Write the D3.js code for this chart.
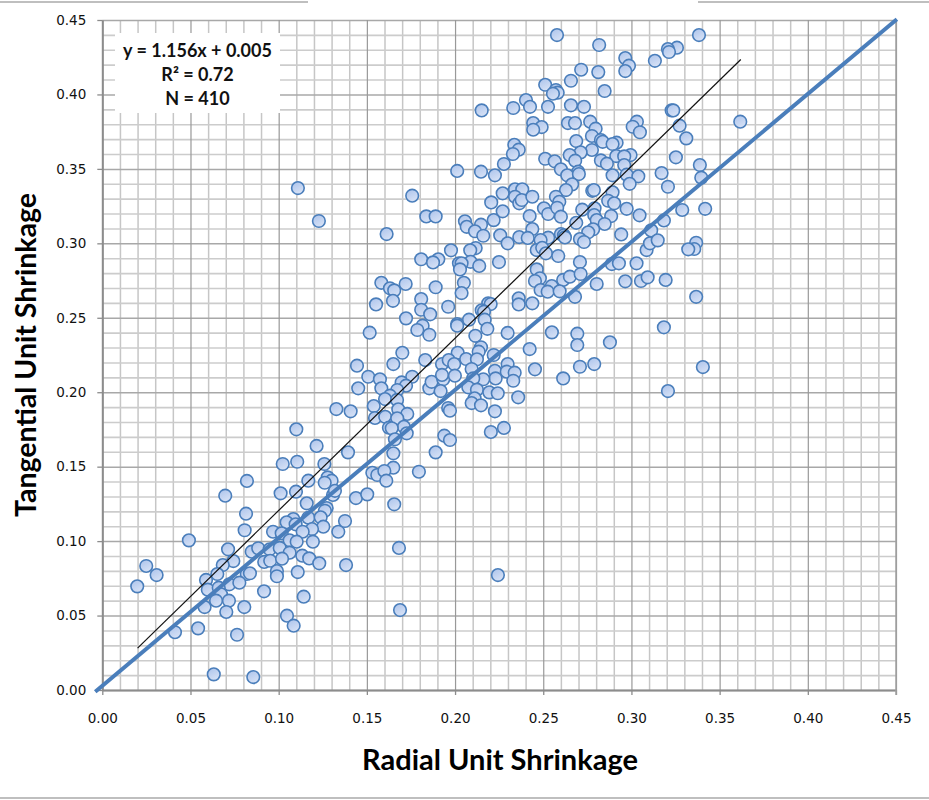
<!DOCTYPE html>
<html><head><meta charset="utf-8">
<script src="https://cdn.jsdelivr.net/npm/d3@7/dist/d3.min.js"></script>
<style>html,body{margin:0;padding:0;background:#fff}svg{display:block}</style>
</head><body><div id="chart"></div>
<script>
const radial = [
.0697,.1011,.1098,.1159,.0815,.1308,.1272,.1262,.0807,.1083,.1045,.1096,.1168,.1238,.1253,.1189,.1136,.0968,.1017,.1338,
.0491,.1062,.1102,.1194,.0713,.0847,.0884,.0949,.1006,.1062,.0743,.0683,.0918,.0952,.1019,.1134,.1173,.1230,.0249,.0308,
.0652,.0819,.0837,.0990,.0990,.1108,.0588,.0198,.0720,.0777,.0598,.0660,.0917,.0673,.1142,.0645,.0718,.0580,.0805,.0703,
.1047,.1085,.0543,.0412,.0764,.0632,.0856,
.1701,.1444,.1650,.1831,.1926,.1508,.1574,.1757,.1451,.1582,.1697,.1722,.1672,.1854,.1867,.1933,.1926,.1918,.1631,.1603,
.1671,.1539,.1327,.1408,.1678,.1729,.1546,.1604,.1659,.1672,.1710,.1625,.1641,.1726,.1100,.1659,.1939,.1971,.1215,.1393,
.1650,.1890,.1023,.1105,.1259,.1650,.1795,.1531,.1559,.1599,.1610,.1168,.1278,.1300,.1261,.1319,.1438,.1502,.1655,.1961,
.1971,.0820,.1376,.1382,.1682,.1688,.2243,.1109,.1228,
.2012,.2147,.2226,.1757,.2270,.2205,.2270,.2219,.1837,.1890,.2056,.2066,.2147,.2113,.2160,.1612,.2256,.2298,.1977,.2117,
.2086,.1905,.1808,.1875,.2088,.2022,.2037,.2028,.2137,.2249,.2050,.1582,.1720,.1631,.1655,.1890,.2037,.1808,.1648,.1552,
.1808,.1961,.2188,.2202,.2151,.2164,.1859,.1722,.2168,.2079,.2012,.2012,.1816,.1786,.2183,.1854,.1516,.2115,.2298,
.2549,.2693,.2693,.2878,.2147,.2134,.2423,.2219,.2015,.1964,.1995,.2063,.2124,.2298,.2094,.2226,.2293,.2338,.2453,.2708,
.2789,.2613,.2330,.2230,.2160,.2103,.1999,.2075,.2124,.2194,.2242,.2358,.2111,.2094,.2147,.2226,.2277,.2203,
.2578,.2817,.2965,.2986,.2965,.3133,.2715,.2812,.2657,.2511,.2572,.2582,.2555,.2848,.2402,.2425,.2330,.2527,.2657,.2731,
.2151,.2443,.2491,.2443,.2640,.2680,.2766,.2797,.2776,.3031,.3007,.3048,.2687,.2827,.2837,.2916,.2893,.2336,.2361,.2328,
.2776,.2712,.2650,.2914,.2995,.2959,.2511,.2565,.2681,.2827,.2861,.2277,.2959,.2600,.2698,
.2636,.2702,.2893,.2973,.3039,.2990,.2664,.2629,.2340,.2381,.2340,.2364,.2378,.2438,.2778,.2787,.2893,.2572,.2591,.2868,
.2902,.2504,.2528,.2579,.2600,.2721,.2791,.2789,.2885,.2973,.3046,.2423,.2803,.2687,.2848,.2438,.2783,.2755,.2364,.2412,
.2600,.2617,.2623,.2528,.2485,.2708,.2731,.2942,.2463,.2494,.2515,.2585,.2708,.2889,.2929,.3029,.3086,.3105,.2463,.2481,
.2453,.2613,.2651,.2712,.2803,.2965,.3054,.3092,.2548,.2485,.2525,.2593,.2680,.2361,.2361,.2438,
.3383,.3258,.3207,.3213,.3228,.3237,.3617,.3273,.3311,.3252,.3388,.3171,.3396,.3207,.3288,.3418,.3184,.3112,.3149,.3367,
.3356,.3322,.3194,.3367,.3184,.3405,.3207
];
const tangential = [
.1305,.1321,.1332,.1254,.1184,.1310,.1222,.1204,.1073,.1148,.1126,.1113,.1157,.1160,.1097,.1081,.1063,.1063,.1052,.1063,
.1005,.1005,.0996,.0996,.0945,.0929,.0952,.0945,.0954,.0922,.0866,.0839,.0860,.0868,.0882,.0902,.0884,.0851,.0833,.0772,
.0779,.0779,.0784,.0799,.0764,.0792,.0739,.0696,.0710,.0721,.0674,.0687,.0663,.0643,.0627,.0600,.0600,.0557,.0557,.0524,
.0499,.0432,.0414,.0388,.0371,.0105,.0087,
.2265,.2178,.2189,.2216,.2189,.2104,.2087,.2104,.2026,.2026,.2066,.2044,.2015,.2026,.2070,.2087,.2116,.2008,.1977,.1954,
.1948,.1907,.1887,.1872,.1885,.1854,.1827,.1835,.1791,.1825,.1768,.1762,.1758,.1724,.1751,.1684,.1708,.1679,.1639,.1596,
.1590,.1596,.1518,.1533,.1518,.1493,.1466,.1459,.1444,.1471,.1406,.1406,.1428,.1406,.1392,.1338,.1289,.1314,.1247,.1894,
.1876,.1404,.1135,.0839,.0954,.0537,.0772,.3371,.3150,
.3486,.3481,.3457,.3320,.3336,.3275,.3215,.3156,.3181,.3181,.3148,.3111,.3125,.3081,.3051,.3062,.3054,.3000,.2953,.2968,
.2953,.2893,.2893,.2872,.2876,.2866,.2866,.2825,.2848,.2874,.2735,.2735,.2727,.2698,.2684,.2705,.2666,.2626,.2614,.2590,
.2554,.2574,.2597,.2592,.2550,.2541,.2523,.2496,.2487,.2487,.2458,.2447,.2447,.2418,.2426,.2386,.2400,.2379,.2398,
.2402,.2393,.2317,.2335,.2302,.2272,.2290,.2250,.2265,.2216,.2189,.2223,.2221,.2189,.2156,.2144,.2138,.2131,.2154,.2171,
.2189,.2093,.2077,.2093,.2087,.2093,.2111,.2033,.2017,.1999,.1993,.1966,.1959,.1927,.1912,.1872,.1760,.1733,
.4399,.4332,.4244,.4193,.4157,.4226,.4166,.4150,.4092,.4065,.4030,.4012,.4005,.4023,.3962,.3917,.3909,.3917,.3927,.3917,
.3893,.3808,.3781,.3763,.3808,.3808,.3817,.3770,.3721,.3817,.3783,.3746,.3687,.3694,.3682,.3676,.3667,.3662,.3629,.3600,
.3627,.3611,.3593,.3586,.3593,.3584,.3568,.3551,.3555,.3557,.3535,.3533,.3526,.3497,.3481,
.3457,.3465,.3457,.3461,.3450,.3400,.3396,.3358,.3363,.3363,.3313,.3269,.3291,.3313,.3353,.3358,.3343,.3313,.3279,.3286,
.3269,.3235,.3197,.3239,.3179,.3226,.3235,.3190,.3183,.3232,.3188,.3183,.3156,.3138,.3130,.3096,.3094,.3074,.3042,.3036,
.3062,.3054,.3040,.3038,.3022,.3029,.3009,.3060,.2955,.2970,.2933,.2915,.2874,.2861,.2866,.2866,.2955,.3000,.2825,.2765,
.2747,.2754,.2776,.2794,.2727,.2745,.2747,.2772,.2713,.2686,.2675,.2678,.2641,.2631,.2590,.2597,
.4399,.4314,.4305,.4285,.3893,.3893,.3817,.3790,.3705,.3578,.3526,.3472,.3441,.3380,.3224,.3232,.3154,.3087,.3020,.3004,
.2962,.2960,.2754,.2641,.2436,.2169,.2008
];
const identityLine = [[-0.004, -0.0012], [0.4505, 0.4505]];
const regressionX = [0.02, 0.362];
const regressionSlope = 1.156, regressionIntercept = 0.005;
const majorTicks = [0,0.05,0.10,0.15,0.20,0.25,0.30,0.35,0.40,0.45];
const minorTicks = d3.range(1,45).map(d=>d/100).filter(d=>Math.round(d*100)%5!==0);
const statLines = ["y = 1.156x + 0.005","R² = 0.72","N = 410"];
const xTitle = "Radial Unit Shrinkage", yTitle = "Tangential Unit Shrinkage";

const W=929,H=800,L=102.3,R=896,T=20,B=690;
const svg=d3.select("#chart").append("svg").attr("width",W).attr("height",H);
const defs=svg.append("defs");
const g=defs.append("linearGradient").attr("id","mk").attr("x1","0.2").attr("y1","0").attr("x2","0.7").attr("y2","1");
g.append("stop").attr("offset","0").attr("stop-color","#aec5ec");
g.append("stop").attr("offset","1").attr("stop-color","#d9e3f6");

const x=d3.scaleLinear().domain([0,0.45]).range([L,R]);
const y=d3.scaleLinear().domain([0,0.45]).range([B,T]);

// frame rules
[[0,308,2],[698,929,2],[0,929,798]].forEach(r=>svg.append("line").attr("x1",r[0]).attr("x2",r[1]).attr("y1",r[2]).attr("y2",r[2]).attr("stroke","#aaa").attr("stroke-width",1.5));

function grid(gen,vals,col,w,tr){
  const a=svg.append("g").attr("transform",tr).call(gen.tickValues(vals).tickFormat("").tickSizeOuter(0));
  a.select(".domain").remove();
  a.selectAll("line").attr("stroke",col).attr("stroke-width",w);
}
grid(d3.axisBottom(x).tickSize(-(B-T)),minorTicks,"#c6c6c6",1.5,`translate(0,${B})`);
grid(d3.axisLeft(y).tickSize(-(R-L)),minorTicks,"#cccccc",1.6,`translate(${L},0)`);
grid(d3.axisLeft(y).tickSize(-(R-L)),majorTicks,"#a8a8a8",1.5,`translate(${L},0)`);
grid(d3.axisBottom(x).tickSize(-(B-T)),majorTicks,"#999999",1.2,`translate(0,${B})`);

// axes
const ax=svg.append("g").attr("transform",`translate(0,${B})`).call(d3.axisBottom(x).tickValues(majorTicks).tickFormat(d3.format(".2f")).tickSize(5).tickPadding(18).tickSizeOuter(0));
const ay=svg.append("g").attr("transform",`translate(${L},0)`).call(d3.axisLeft(y).tickValues(majorTicks).tickFormat(d3.format(".2f")).tickSize(5).tickPadding(11).tickSizeOuter(0));
[ax,ay].forEach(a=>{
  a.select(".domain").attr("stroke","#8c8c8c").attr("stroke-width",2);
  a.selectAll("line").attr("stroke","#8c8c8c").attr("stroke-width",1.3);
  a.selectAll("text").attr("font-family","'DejaVu Sans'").attr("font-size",13.5).attr("fill","#111");
});
svg.append("line").attr("x1",R).attr("x2",R).attr("y1",T).attr("y2",B+5).attr("stroke","#a0a0a0").attr("stroke-width",1.5);

// stat box
svg.append("rect").attr("x",115).attr("y",33).attr("width",165).attr("height",80).attr("fill","#fff");
const statY=[57,81,105];
statLines.forEach((t,i)=>svg.append("text").text(t).attr("x",197.5).attr("y",statY[i]).attr("text-anchor","middle")
  .attr("font-family","Lato").attr("font-weight",700).attr("font-size",18).attr("fill","#111"));

// points
svg.append("g").selectAll("circle").data(radial.map((d,i)=>[d,tangential[i]])).join("circle")
  .attr("cx",d=>x(d[0])).attr("cy",d=>y(d[1])).attr("r",6.3)
  .attr("fill","url(#mk)").attr("stroke","#4a7ebb").attr("stroke-width",1.6);

// lines
const line=d3.line().x(d=>x(d[0])).y(d=>y(d[1]));
svg.append("path").attr("d",line(regressionX.map(v=>[v,regressionSlope*v+regressionIntercept]))).attr("fill","none").attr("stroke","#111").attr("stroke-width",1.2);
svg.append("path").attr("d",line(identityLine)).attr("fill","none").attr("stroke","#4a7ebb").attr("stroke-width",4);

// titles
svg.append("text").text(xTitle).attr("x",500).attr("y",770).attr("text-anchor","middle")
  .attr("font-family","Lato").attr("font-weight",700).attr("font-size",29).attr("fill","#000");
svg.append("text").text(yTitle).attr("transform","translate(36,355) rotate(-90)").attr("text-anchor","middle")
  .attr("font-family","Lato").attr("font-weight",700).attr("font-size",28.5).attr("fill","#000");
</script></body></html>
